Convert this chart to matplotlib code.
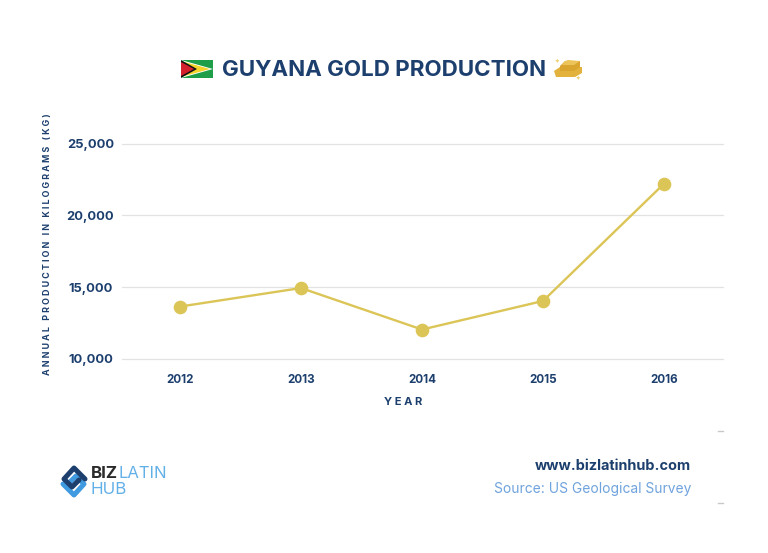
import matplotlib
matplotlib.use("Agg")
import matplotlib.pyplot as plt
from matplotlib.patches import Polygon
from matplotlib.lines import Line2D
from matplotlib.transforms import ScaledTranslation

years = ["2012", "2013", "2014", "2015", "2016"]
production = [13650, 14940, 12050, 14040, 22200]
y_ticks = [10000, 15000, 20000, 25000]

NAVY = "#1c3f6e"
GOLD = "#dcc557"
GRID = "#e2e2e2"
BLUE = "#6fa3dd"
plt.rcParams["font.family"] = ["Inter", "DejaVu Sans"]

W, H = 768, 553
fig = plt.figure(figsize=(W / 100, H / 100), dpi=100, facecolor="white")

ax = fig.add_axes([122 / W, 1 - 359 / H, (723 - 122) / W, (359 - 143.5) / H])
xs = list(range(len(years)))
ax.plot(xs, production, color=GOLD, lw=1.7, marker="o", ms=8.8, mec=GOLD, mfc=GOLD,
        clip_on=False, zorder=3)
ax.set_xlim(-58 / 121, 4 + 59 / 121)
ax.set_ylim(10000, 25000)
ax.set_yticks(y_ticks)
ax.set_yticklabels([f"{v:,}" for v in y_ticks], fontsize=9.3, fontweight="bold", color=NAVY, ha="center")
ax.set_xticks(xs)
ax.set_xticklabels(years, fontsize=8.4, fontweight="bold", color=NAVY)
off = ScaledTranslation(-4 / 100, 0, fig.dpi_scale_trans)
for t in ax.get_xticklabels():
    t.set_transform(t.get_transform() + off)
ax.tick_params(axis="both", length=0)
ax.tick_params(axis="y", pad=22.7)
ax.tick_params(axis="x", pad=10.5)
ax.grid(axis="y", color=GRID, lw=0.9, clip_on=False)
ax.set_axisbelow(True)
for s in ax.spines.values():
    s.set_visible(False)

# overlay in pixel coordinates for page furniture
ov = fig.add_axes([0, 0, 1, 1], facecolor="none")
ov.set_xlim(0, W)
ov.set_ylim(H, 0)
ov.axis("off")

ov.text(384.5, 70, "GUYANA GOLD PRODUCTION", ha="center", va="center", fontsize=16.1,
        fontweight="bold", color=NAVY)
ylabel = "   ".join(" ".join(word) for word in "ANNUAL PRODUCTION IN KILOGRAMS (KG)".split())
ov.text(48, 244, ylabel, rotation=90, ha="center", va="center",
        fontsize=6.4, fontweight="bold", color=NAVY)
ov.text(403, 402, "Y E A R", ha="center", va="center", fontsize=8, fontweight="bold", color=NAVY)

# Guyana flag
ov.add_patch(Polygon([(181, 60), (213, 60), (213, 78), (181, 78)], fc="#1f9e4a", ec="none"))
ov.add_patch(Polygon([(181, 60), (213, 69), (181, 78)], fc="white", ec="none"))
ov.add_patch(Polygon([(181, 61), (210, 69), (181, 77)], fc="#f4d32a", ec="none"))
ov.add_patch(Polygon([(181, 60), (197, 69), (181, 78)], fc="#111111", ec="none"))
ov.add_patch(Polygon([(181, 62), (194, 69), (181, 76)], fc="#d3202c", ec="none"))

# gold bars
ov.add_patch(Polygon([(554, 71), (560, 67), (582, 67), (582, 73), (575, 77), (556, 77)],
                     fc="#e3b23c", ec="none"))
ov.add_patch(Polygon([(560, 66), (565, 61), (580, 61), (580, 67), (574, 71), (560, 71)],
                     fc="#d9a52f", ec="none"))
ov.add_patch(Polygon([(565, 61), (568, 60), (580, 61), (574, 65), (562, 65)], fc="#edc459", ec="none"))
ov.text(557, 61, "✦", fontsize=4, color="#efcf6a", ha="center", va="center", family="DejaVu Sans")
ov.text(578, 78, "✦", fontsize=4, color="#efcf6a", ha="center", va="center", family="DejaVu Sans")

# logo
ov.add_line(Line2D([63, 74, 84, 76, 69], [484, 495, 484, 476, 483], color="#3f9ae0", lw=3.6,
                   solid_capstyle="round", solid_joinstyle="round"))
ov.add_line(Line2D([85, 74, 64, 72, 79], [479, 468, 479, 487, 480], color="#1c3f6e", lw=3.6,
                   solid_capstyle="round", solid_joinstyle="round"))
ov.text(91, 473.5, "BIZ", fontsize=12.2, fontweight="bold", color="#2b2b2b", ha="left", va="center")
ov.text(119, 473.5, "LATIN", fontsize=12, color="#62b0e8", ha="left", va="center")
ov.text(91, 489.5, "HUB", fontsize=12.2, color="#62b0e8", ha="left", va="center")

ov.text(691, 466, "www.bizlatinhub.com", ha="right", va="center", fontsize=10.4,
        fontweight="bold", color=NAVY)
ov.text(691, 489, "Source: US Geological Survey", ha="right", va="center", fontsize=9.95, color=BLUE)

for yy in (431, 503):
    ov.add_line(Line2D([718, 723], [yy, yy], color="#c9c9c9", lw=1))

fig.savefig("out.png", dpi=100, facecolor="white")
